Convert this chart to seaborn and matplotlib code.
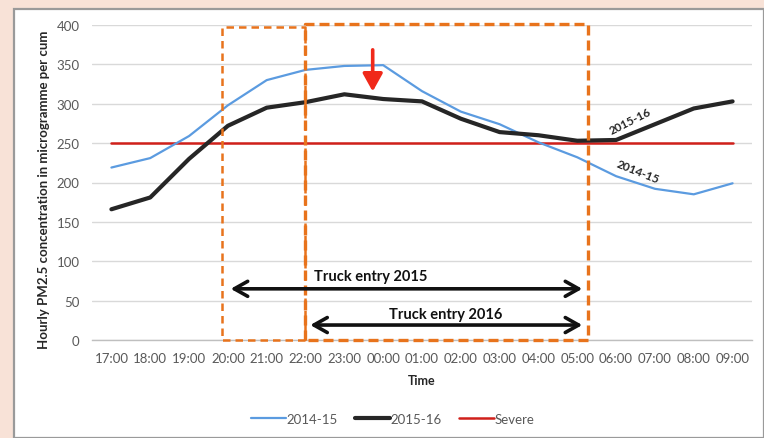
import matplotlib
matplotlib.use("Agg")
import matplotlib.pyplot as plt
import seaborn as sns
import pandas as pd
import numpy as np
from matplotlib.patches import Rectangle

times = ["17:00", "18:00", "19:00", "20:00", "21:00", "22:00", "23:00", "00:00",
         "01:00", "02:00", "03:00", "04:00", "05:00", "06:00", "07:00", "08:00", "09:00"]
pm_2014_15 = [219, 231, 259, 298, 330, 343, 348, 349, 316, 290, 274, 251, 232, 208, 192, 185, 199]
pm_2015_16 = [166, 181, 230, 272, 295, 302, 312, 306, 303, 281, 264, 260, 253, 254, 274, 294, 303]
severe = [250] * len(times)
y_ticks = [0, 50, 100, 150, 200, 250, 300, 350, 400]

sns.set_theme(style="white")
plt.rcParams["font.family"] = ["Lato", "DejaVu Sans"]

fig = plt.figure(figsize=(7.64, 4.39), dpi=100)
fig.patch.set_facecolor("#F8E2D7")
W, H = 764, 439
# white chart panel with gray border
fig.patches.append(Rectangle((14 / W, 0), 1 - 14 / W, 1 - 10 / H, transform=fig.transFigure,
                             facecolor="white", edgecolor="#9A9A9A", linewidth=1.6, zorder=-5))

ax = fig.add_axes([92 / W, 1 - 341 / H, 660 / W, (341 - 26) / H])
ax.set_zorder(5)
ax.set_facecolor("none")

pos = list(range(len(times)))
df = pd.DataFrame({"pos": pos, "a": pm_2014_15, "b": pm_2015_16, "s": severe})

sns.lineplot(data=df, x="pos", y="a", ax=ax, color="#5B9BE0", linewidth=1.6, label="2014-15", zorder=4)
sns.lineplot(data=df, x="pos", y="b", ax=ax, color="#262626", linewidth=3.0, label="2015-16", zorder=5)
sns.lineplot(data=df, x="pos", y="s", ax=ax, color="#D0201A", linewidth=1.8, label="Severe", zorder=3)

ax.set_xlim(-0.5, len(times) - 0.5)
ax.set_ylim(0, 400)
ax.set_yticks(y_ticks)
ax.set_xticks(pos)
ax.set_xticklabels(times)
ax.set_xticks(np.arange(-0.5, len(times), 1.0), minor=True)
ax.tick_params(axis="both", which="major", length=0, labelsize=9.5, labelcolor="#595959")
ax.tick_params(axis="y", pad=9)
ax.tick_params(axis="x", pad=9)
ax.tick_params(axis="x", which="minor", direction="in", length=4, color="#BFBFBF", width=1)
ax.grid(axis="y", color="#D9D9D9", linewidth=1)
ax.set_axisbelow(True)
for s in ["top", "right", "left"]:
    ax.spines[s].set_visible(False)
ax.spines["bottom"].set_color("#BFBFBF")
ax.spines["bottom"].set_linewidth(1)

ax.set_xlabel("Time", fontsize=9, fontweight="bold", color="#262626", labelpad=7)
ax.set_ylabel("Hourly PM2.5 concentration in microgramme per cum", fontsize=9.5,
              fontweight="bold", color="#262626", labelpad=8)
ax.yaxis.set_label_coords(-0.063, 0.48)

# orange dashed boxes
orange = "#E8731C"
ax.plot([4.98, 2.85, 2.85, 4.98, 4.98], [0, 0, 398, 398, 0], color=orange, lw=1.8,
        linestyle=(0, (3, 2)), clip_on=False, zorder=6)
ax.plot([4.98, 4.98, 12.28, 12.28, 4.98], [0, 401, 401, 0, 0], color=orange, lw=2.4,
        linestyle=(0, (3, 1.5)), clip_on=False, zorder=6)

# truck entry arrows
ax.annotate("", xy=(3.0, 65), xytext=(12.2, 65),
            arrowprops=dict(arrowstyle="<->,head_length=0.8,head_width=0.45", color="#111111", lw=2.6),
            zorder=7)
ax.annotate("", xy=(5.05, 19), xytext=(12.2, 19),
            arrowprops=dict(arrowstyle="<->,head_length=0.8,head_width=0.45", color="#111111", lw=2.6),
            zorder=7)
ax.text(6.67, 81, "Truck entry 2015", ha="center", va="center", fontsize=10.5, fontweight="bold", color="#111111")
ax.text(8.62, 33, "Truck entry 2016", ha="center", va="center", fontsize=10.5, fontweight="bold", color="#111111")

# red arrow
ax.annotate("", xy=(6.73, 312), xytext=(6.73, 372),
            arrowprops=dict(arrowstyle="-|>,head_length=0.9,head_width=0.5", color="#F0291A", lw=2.6),
            zorder=8)

# series labels
ax.text(13.36, 278, "2015-16", ha="center", va="center", rotation=27, fontsize=8.5,
        fontweight="bold", color="#262626", zorder=9)
ax.text(13.55, 214, "2014-15", ha="center", va="center", rotation=-22, fontsize=8.5,
        fontweight="bold", color="#262626", zorder=9)

leg = ax.legend(loc="center", bbox_to_anchor=(393 / W, 1 - 420 / H), bbox_transform=fig.transFigure,
                ncol=3, frameon=False, fontsize=9.5, handlelength=2.6, columnspacing=1.3, handletextpad=0.1)
for t in leg.get_texts():
    t.set_color("#595959")

fig.savefig("out.png", dpi=100, facecolor=fig.get_facecolor())
